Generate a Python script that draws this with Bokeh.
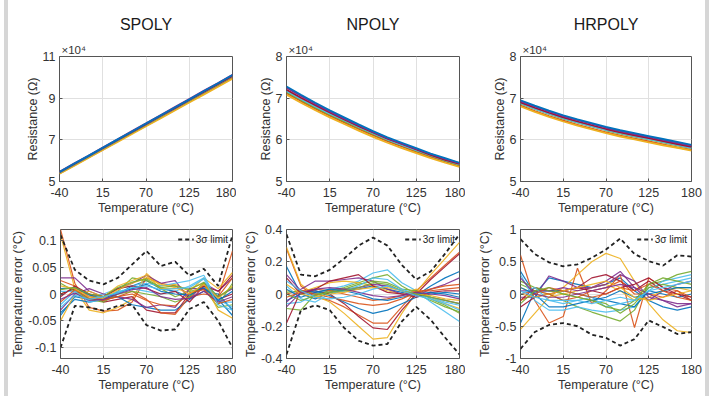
from bokeh.plotting import figure
from bokeh.layouts import column, row
from bokeh.models import Legend, LegendItem, CustomJSTickFormatter, Title, Spacer
from bokeh.embed import file_html
from bokeh.resources import INLINE

# ---------------- data ----------------
TEMPS = [-40, -21.67, -3.33, 15, 33.33, 51.67, 70, 88.33, 106.67, 125, 143.33, 161.67, 180]
X_TICKS = [-40, 15, 70, 125, 180]
TITLES = ["SPOLY", "NPOLY", "HRPOLY"]
COLORS = ["#0072BD", "#D95319", "#EDB120", "#7E2F8E", "#77AC30", "#4DBEEE", "#A2142F"]

# resistance (x10^4 Ohm), one curve per device
SPOLY_RES = [
    [5.46, 5.85, 6.23, 6.62, 7.01, 7.39, 7.78, 8.17, 8.55, 8.94, 9.33, 9.72, 10.11],
    [5.39, 5.77, 6.15, 6.53, 6.92, 7.30, 7.68, 8.06, 8.45, 8.83, 9.21, 9.59, 9.98],
    [5.37, 5.75, 6.13, 6.51, 6.89, 7.27, 7.65, 8.03, 8.41, 8.79, 9.17, 9.55, 9.93],
    [5.47, 5.86, 6.24, 6.63, 7.02, 7.41, 7.79, 8.18, 8.57, 8.96, 9.35, 9.73, 10.12],
    [5.42, 5.81, 6.19, 6.57, 6.96, 7.34, 7.73, 8.11, 8.50, 8.88, 9.27, 9.65, 10.04],
    [5.43, 5.82, 6.20, 6.59, 6.97, 7.36, 7.74, 8.13, 8.51, 8.90, 9.28, 9.67, 10.05],
    [5.44, 5.83, 6.21, 6.60, 6.98, 7.37, 7.75, 8.14, 8.52, 8.91, 9.30, 9.68, 10.07],
]
NPOLY_RES = [
    [7.28, 7.08, 6.89, 6.71, 6.54, 6.37, 6.21, 6.06, 5.93, 5.80, 5.67, 5.56, 5.45],
    [7.12, 6.93, 6.75, 6.58, 6.42, 6.26, 6.11, 5.97, 5.84, 5.71, 5.59, 5.48, 5.37],
    [7.08, 6.89, 6.71, 6.54, 6.38, 6.22, 6.07, 5.93, 5.80, 5.68, 5.56, 5.45, 5.35],
    [7.25, 7.05, 6.86, 6.68, 6.51, 6.35, 6.19, 6.04, 5.91, 5.78, 5.66, 5.54, 5.44],
    [7.15, 6.96, 6.78, 6.61, 6.45, 6.29, 6.14, 6.00, 5.87, 5.74, 5.62, 5.50, 5.40],
    [7.17, 6.98, 6.80, 6.63, 6.47, 6.31, 6.16, 6.01, 5.88, 5.75, 5.63, 5.51, 5.41],
    [7.20, 7.01, 6.83, 6.66, 6.49, 6.33, 6.18, 6.03, 5.90, 5.77, 5.64, 5.52, 5.42],
]
HRPOLY_RES = [
    [6.95, 6.82, 6.70, 6.59, 6.49, 6.40, 6.31, 6.23, 6.16, 6.09, 6.02, 5.95, 5.88],
    [6.82, 6.69, 6.57, 6.46, 6.36, 6.27, 6.18, 6.10, 6.03, 5.96, 5.89, 5.82, 5.76],
    [6.80, 6.67, 6.55, 6.44, 6.34, 6.25, 6.16, 6.08, 6.01, 5.94, 5.87, 5.81, 5.74],
    [6.93, 6.80, 6.68, 6.57, 6.47, 6.38, 6.29, 6.21, 6.14, 6.07, 6.00, 5.93, 5.86],
    [6.87, 6.74, 6.62, 6.51, 6.41, 6.32, 6.23, 6.15, 6.08, 6.01, 5.94, 5.87, 5.80],
    [6.88, 6.75, 6.63, 6.52, 6.42, 6.33, 6.24, 6.16, 6.09, 6.02, 5.95, 5.88, 5.81],
    [6.90, 6.77, 6.65, 6.54, 6.44, 6.35, 6.26, 6.18, 6.11, 6.04, 5.97, 5.90, 5.83],
]

# temperature error (degC), one curve per device
SPOLY_ERR = [
    [-0.040, -0.005, -0.010, -0.012, 0.000, 0.015, 0.025, 0.010, 0.005, -0.005, 0.020, -0.010, -0.040],
    [0.120, 0.020, -0.025, -0.032, -0.030, -0.015, 0.030, 0.020, 0.015, 0.000, 0.015, -0.005, 0.080],
    [0.110, 0.010, -0.030, -0.035, -0.025, -0.010, 0.038, 0.015, 0.018, 0.005, 0.030, 0.010, 0.040],
    [0.030, 0.030, 0.005, -0.005, 0.010, 0.020, 0.035, 0.020, 0.025, -0.010, 0.020, 0.005, 0.030],
    [0.000, 0.010, -0.010, -0.010, 0.005, 0.030, 0.025, 0.010, -0.005, 0.005, 0.010, -0.025, -0.020],
    [-0.020, 0.005, -0.005, 0.000, 0.010, 0.015, 0.020, 0.015, 0.020, 0.025, 0.035, -0.015, -0.015],
    [0.000, 0.010, 0.000, -0.015, -0.010, -0.005, -0.030, -0.035, -0.035, 0.000, 0.010, -0.010, 0.000],
    [-0.035, -0.010, -0.015, -0.010, -0.005, -0.020, -0.025, -0.030, -0.030, -0.010, 0.005, 0.000, -0.030],
    [0.025, 0.015, -0.005, -0.010, -0.005, 0.005, -0.010, -0.035, -0.038, -0.005, 0.000, -0.005, 0.030],
    [-0.050, 0.000, 0.005, -0.005, 0.015, 0.025, 0.035, 0.010, 0.010, 0.010, 0.020, -0.030, -0.045],
    [-0.030, 0.000, 0.010, 0.000, -0.005, -0.010, -0.025, -0.020, -0.025, 0.010, 0.010, -0.005, 0.010],
    [0.020, 0.005, -0.010, -0.015, 0.000, 0.005, 0.000, -0.005, -0.015, -0.005, 0.020, -0.020, 0.020],
    [0.005, 0.005, -0.015, -0.010, 0.005, 0.010, 0.005, 0.000, 0.005, 0.015, 0.030, -0.010, -0.025],
    [-0.005, 0.015, 0.000, -0.005, 0.010, 0.015, 0.010, 0.000, 0.005, -0.015, 0.015, 0.005, 0.035],
    [0.010, 0.012, -0.002, -0.008, 0.002, 0.010, 0.018, 0.005, 0.000, -0.002, 0.012, -0.012, 0.005],
    [-0.015, 0.008, -0.008, -0.012, -0.005, 0.000, -0.012, -0.020, -0.022, 0.002, 0.008, -0.018, -0.010],
    [0.015, 0.010, -0.005, -0.008, 0.008, 0.020, 0.030, 0.018, 0.012, 0.000, 0.018, -0.008, 0.015],
    [-0.010, 0.002, -0.012, -0.010, 0.000, 0.008, 0.012, -0.005, -0.010, -0.008, 0.005, -0.015, -0.005],
    [0.008, 0.012, 0.000, -0.005, 0.012, 0.022, 0.028, 0.012, 0.015, 0.008, 0.022, -0.005, 0.012],
    [-0.025, -0.002, -0.010, -0.005, 0.002, 0.012, 0.015, 0.008, 0.010, 0.012, 0.028, -0.020, -0.030],
]
NPOLY_ERR = [
    [0.170, 0.000, -0.030, 0.010, 0.020, 0.030, 0.050, 0.030, 0.010, -0.010, 0.050, 0.100, 0.140],
    [0.280, 0.050, -0.020, -0.040, -0.080, -0.130, -0.180, -0.180, -0.080, 0.020, 0.100, 0.180, 0.260],
    [0.290, 0.060, -0.010, -0.050, -0.120, -0.200, -0.280, -0.270, -0.120, 0.010, 0.120, 0.220, 0.320],
    [0.120, 0.020, 0.010, 0.020, 0.030, 0.040, 0.060, 0.050, 0.020, -0.010, 0.030, 0.060, 0.100],
    [-0.090, -0.100, 0.000, 0.020, 0.040, 0.070, 0.100, 0.120, 0.050, 0.000, -0.040, -0.080, -0.110],
    [-0.060, -0.050, 0.000, 0.030, 0.050, 0.080, 0.130, 0.150, 0.070, 0.020, -0.050, -0.110, -0.170],
    [-0.180, 0.020, 0.020, 0.000, -0.060, -0.140, -0.210, -0.220, -0.100, 0.000, 0.090, 0.170, 0.250],
    [-0.040, 0.000, 0.020, -0.010, -0.050, -0.090, -0.120, -0.100, -0.060, -0.020, 0.000, 0.010, 0.000],
    [0.000, 0.020, 0.030, 0.020, 0.000, -0.020, -0.040, -0.030, -0.010, 0.020, 0.020, 0.030, 0.040],
    [0.020, 0.010, 0.040, 0.070, 0.080, 0.070, 0.050, 0.020, 0.000, 0.030, -0.020, -0.060, -0.090],
    [-0.050, 0.030, 0.080, 0.080, 0.090, 0.100, 0.080, 0.030, 0.000, 0.000, -0.020, -0.040, -0.060],
    [0.010, 0.020, 0.000, 0.010, 0.030, 0.060, 0.080, 0.070, 0.030, 0.020, -0.030, -0.070, -0.120],
    [0.050, -0.030, -0.050, 0.000, 0.020, 0.050, 0.100, 0.090, 0.030, 0.000, -0.020, -0.050, -0.070],
    [0.100, 0.000, 0.030, 0.080, 0.100, 0.120, 0.050, 0.010, 0.000, -0.020, 0.010, 0.020, 0.020],
    [0.030, -0.020, 0.010, 0.030, 0.020, 0.000, -0.030, -0.040, -0.020, 0.000, 0.010, 0.000, -0.020],
    [-0.020, 0.010, 0.000, -0.020, -0.040, -0.060, -0.070, -0.060, -0.030, 0.010, 0.030, 0.050, 0.060],
    [0.060, 0.000, -0.020, 0.000, 0.010, 0.030, 0.040, 0.040, 0.020, 0.000, -0.010, -0.030, -0.040],
    [-0.080, 0.010, 0.030, 0.040, 0.030, 0.010, -0.010, -0.020, -0.010, 0.010, 0.000, -0.010, -0.030],
    [0.000, -0.040, -0.010, 0.010, 0.020, 0.040, 0.070, 0.060, 0.020, 0.000, -0.020, -0.040, -0.060],
    [0.080, 0.020, -0.020, -0.030, -0.020, 0.000, 0.030, 0.050, 0.020, -0.010, -0.030, -0.060, -0.100],
]
HRPOLY_ERR = [
    [0.350, 0.000, 0.250, 0.200, 0.150, 0.100, 0.150, 0.250, 0.050, -0.100, -0.200, -0.250, -0.200],
    [0.600, -0.100, -0.450, -0.350, 0.400, -0.150, 0.050, 0.300, -0.520, 0.250, 0.100, 0.050, -0.100],
    [-0.550, -0.300, -0.050, 0.100, 0.300, 0.500, 0.630, 0.550, 0.200, -0.150, -0.400, -0.570, -0.600],
    [-0.050, -0.050, 0.280, 0.200, 0.100, 0.100, 0.200, 0.350, 0.100, -0.100, 0.050, 0.150, 0.200],
    [0.150, 0.050, 0.000, -0.100, -0.200, -0.280, -0.350, -0.420, -0.250, 0.150, 0.200, 0.300, 0.350],
    [0.300, -0.100, -0.250, -0.250, -0.200, -0.250, -0.280, -0.250, -0.200, 0.100, 0.150, 0.200, 0.250],
    [-0.100, 0.100, 0.050, 0.050, 0.100, 0.250, 0.300, 0.200, 0.050, 0.200, 0.050, 0.000, -0.100],
    [-0.450, 0.050, 0.050, 0.050, 0.000, -0.050, -0.100, -0.150, -0.200, 0.050, 0.000, -0.050, 0.000],
    [0.000, 0.050, 0.000, -0.100, -0.050, 0.050, 0.100, 0.200, 0.000, 0.000, -0.050, 0.050, -0.050],
    [0.100, 0.000, -0.050, 0.000, 0.050, 0.100, 0.150, 0.050, -0.100, -0.050, 0.050, 0.100, 0.050],
    [0.050, 0.050, 0.050, 0.100, 0.050, 0.100, 0.150, 0.300, 0.200, -0.050, -0.100, -0.150, -0.150],
    [0.200, 0.100, 0.050, 0.000, -0.050, -0.100, -0.150, -0.300, -0.150, 0.100, 0.150, 0.100, 0.100],
    [0.000, 0.100, -0.100, -0.150, -0.100, -0.050, -0.200, -0.150, -0.100, 0.050, 0.200, 0.250, 0.300],
    [-0.200, -0.050, 0.000, 0.050, 0.100, 0.050, 0.000, 0.100, 0.150, 0.250, 0.100, 0.000, -0.050],
    [0.100, 0.000, -0.200, -0.200, -0.150, -0.100, -0.050, 0.050, -0.050, 0.000, 0.050, 0.100, 0.100],
    [-0.100, 0.000, 0.100, 0.050, 0.000, -0.050, 0.000, 0.100, 0.050, 0.150, 0.050, -0.050, -0.100],
    [0.000, -0.050, 0.000, 0.050, 0.100, 0.150, 0.200, 0.100, -0.050, -0.100, -0.050, 0.000, 0.050],
    [0.250, 0.000, -0.050, -0.050, 0.000, 0.050, 0.100, 0.150, 0.100, 0.000, -0.100, -0.200, -0.150],
    [-0.150, 0.050, 0.100, 0.000, -0.050, -0.100, -0.200, -0.250, -0.100, 0.150, 0.250, 0.200, 0.150],
    [0.050, -0.050, -0.100, -0.100, -0.100, -0.150, -0.100, -0.050, -0.100, 0.050, 0.100, 0.150, 0.200],
]

# 3-sigma limits
SPOLY_UP = [0.110, 0.045, 0.025, 0.018, 0.030, 0.055, 0.080, 0.052, 0.060, 0.034, 0.047, 0.015, 0.110]
SPOLY_LO = [-0.100, -0.022, -0.025, -0.031, -0.022, -0.020, -0.058, -0.068, -0.066, -0.028, -0.015, -0.050, -0.100]
NPOLY_UP = [0.370, 0.120, 0.110, 0.150, 0.220, 0.300, 0.350, 0.300, 0.180, 0.090, 0.140, 0.250, 0.370]
NPOLY_LO = [-0.375, -0.100, -0.070, -0.100, -0.210, -0.290, -0.320, -0.310, -0.170, -0.080, -0.160, -0.270, -0.375]
HRPOLY_UP = [0.850, 0.620, 0.490, 0.430, 0.460, 0.560, 0.690, 0.860, 0.620, 0.510, 0.440, 0.600, 0.580]
HRPOLY_LO = [-0.850, -0.590, -0.480, -0.450, -0.500, -0.630, -0.680, -0.800, -0.700, -0.410, -0.510, -0.620, -0.590]

RES_YRANGE = [(5, 11), (5, 8), (5, 8)]
RES_YTICKS = [[5, 7, 9, 11], [5, 6, 7, 8], [5, 6, 7, 8]]
ERR_YRANGE = [(-0.12, 0.12), (-0.4, 0.4), (-1, 1)]
ERR_YTICKS = [[-0.1, -0.05, 0, 0.05, 0.1], [-0.4, -0.2, 0, 0.2, 0.4], [-1, -0.5, 0, 0.5, 1]]

# ---------------- layout ----------------
FONT = "Liberation Sans"
LEFT = [51, 50, 55]
RIGHT = [4, 6, 14]
FRAME_W = [173, 173, 171]
TOP_H = (56, 125, 42)      # top border, frame, bottom border
BOT_H = (6, 129, 38)
BAR = "#d6d6d6"

fmt = CustomJSTickFormatter(code="return String(Math.round(tick*1000)/1000);")


def style(p, yticks, ylabel):
    p.xaxis.ticker = X_TICKS
    p.yaxis.ticker = yticks
    p.xaxis.axis_label = "Temperature (°C)"
    p.yaxis.axis_label = ylabel
    for ax in (p.xaxis[0], p.yaxis[0]):
        ax.formatter = fmt
        ax.major_tick_in = 3
        ax.major_tick_out = 0
        ax.minor_tick_line_color = None
        ax.axis_line_color = None
        ax.major_tick_line_color = "#555555"
        ax.major_label_text_font = FONT
        ax.major_label_text_font_size = "12.5px"
        ax.major_label_text_color = "#333333"
        ax.axis_label_text_font = FONT
        ax.axis_label_text_font_size = "12.5px"
        ax.axis_label_text_font_style = "normal"
        ax.axis_label_text_color = "#333333"
        ax.axis_label_standoff = 0
    p.xaxis.major_label_standoff = 6
    p.xaxis.axis_label_standoff = 1
    p.yaxis.major_label_standoff = 4
    p.grid.grid_line_color = "#e0e0e0"
    p.outline_line_color = "#555555"
    p.outline_line_width = 1


res_sets = [SPOLY_RES, NPOLY_RES, HRPOLY_RES]
err_sets = [SPOLY_ERR, NPOLY_ERR, HRPOLY_ERR]
up_sets = [SPOLY_UP, NPOLY_UP, HRPOLY_UP]
lo_sets = [SPOLY_LO, NPOLY_LO, HRPOLY_LO]

top_figs = []
bot_figs = []
for k in range(3):
    w = LEFT[k] + FRAME_W[k] + RIGHT[k]
    # --- resistance panel ---
    p = figure(width=w, height=sum(TOP_H), x_range=(-40, 180), y_range=RES_YRANGE[k],
               output_backend="svg", toolbar_location=None,
               min_border_left=LEFT[k], min_border_right=RIGHT[k],
               min_border_top=TOP_H[0], min_border_bottom=TOP_H[2])
    style(p, RES_YTICKS[k], "Resistance (Ω)")
    order = [1, 2, 4, 5, 6, 3, 0]
    for i in order:
        p.line(TEMPS, res_sets[k][i], line_color=COLORS[i], line_width=1.8)
    p.add_layout(Title(text="×10⁴", align="left", offset=2, standoff=1,
                       text_font=FONT, text_font_size="11.5px", text_font_style="normal",
                       text_color="#333333"), "above")
    p.add_layout(Title(text=TITLES[k], align="center", offset=-4, standoff=18,
                       text_font=FONT, text_font_size="16px", text_font_style="normal",
                       text_color="#1a1a1a"), "above")
    top_figs.append(p)

    # --- error panel ---
    q = figure(width=w, height=sum(BOT_H), x_range=(-40, 180), y_range=ERR_YRANGE[k],
               output_backend="svg", toolbar_location=None,
               min_border_left=LEFT[k], min_border_right=RIGHT[k],
               min_border_top=BOT_H[0], min_border_bottom=BOT_H[2])
    style(q, ERR_YTICKS[k], "Temperature error (°C)")
    for i, curve in enumerate(err_sets[k]):
        q.line(TEMPS, curve, line_color=COLORS[i % 7], line_width=1.2, line_alpha=0.9)
    r_up = q.line(TEMPS, up_sets[k], line_color="#222222", line_width=1.8, line_dash="4 3")
    q.line(TEMPS, lo_sets[k], line_color="#222222", line_width=1.8, line_dash="4 3")
    leg = Legend(items=[LegendItem(label="3σ limit", renderers=[r_up])], location="top_right",
                 label_text_font=FONT, label_text_font_size="10px", label_text_color="#222222",
                 glyph_width=16, glyph_height=10, label_standoff=2, padding=1, margin=3,
                 spacing=0, label_height=12, background_fill_alpha=0, border_line_alpha=0)
    q.add_layout(leg)
    bot_figs.append(q)

H = sum(TOP_H) + sum(BOT_H)
grid = column(row(*top_figs), row(*bot_figs))
layout = row(Spacer(width=4, height=H),
             Spacer(width=4, height=H, styles={"background-color": BAR}),
             grid,
             Spacer(width=4, height=H, styles={"background-color": BAR}))
open("out.html", "w").write(file_html(layout, INLINE))
